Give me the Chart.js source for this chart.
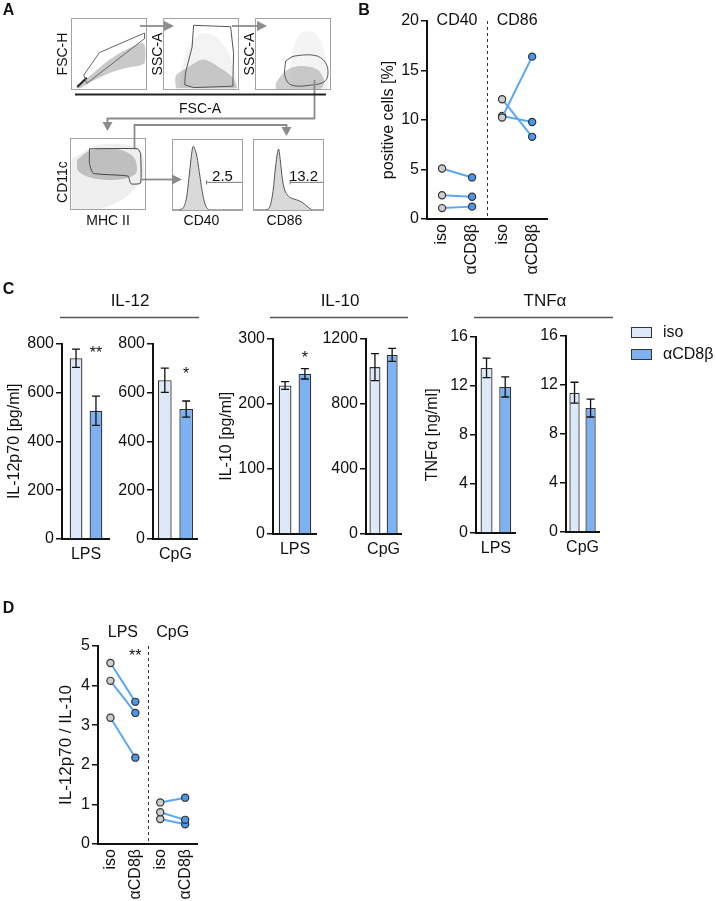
<!DOCTYPE html>
<html>
<head>
<meta charset="utf-8">
<script src="https://cdn.jsdelivr.net/npm/chart.js@4.4.1/dist/chart.umd.min.js"></script>
<style>
  html, body { margin: 0; padding: 0; background: #fff; }
  #fig { position: relative; width: 716px; height: 901px; overflow: hidden;
         font-family: "Liberation Sans", Arial, Helvetica, sans-serif; color: #111; background: #fff; }
  .t { position: absolute; white-space: nowrap; line-height: 1; transform: translate(-50%, -50%); }
  .t.rot { transform: translate(-50%, -50%) rotate(-90deg); }
  .t.left { transform: translate(0, -50%); }
  .box { position: absolute; border: 1px solid #a2a2a2; box-sizing: border-box; }
  .key { position: absolute; border: 1.3px solid #333; box-sizing: border-box; }
  canvas { position: absolute; }
  svg { position: absolute; left: 0; top: 0; }
</style>
</head>
<body>
<div id="fig"></div>
<script>
/* ===============================
   Data
   =============================== */

// Panel A - gate / density outlines, in % of each plot frame (x right, y up)
const fscGate = [[16, 20], [37, 52], [98, 80], [98, 72], [20, 8], [16, 20]];
const fscCloud = [[6, 2], [29, 23], [51, 42], [73, 56], [97, 65], [98, 37], [73, 30], [51, 23], [29, 12], [11, 1], [6, 2]];
const fscDiag = [[7, 3], [20, 16]];
const ssc1Gate = [[40, 91], [90, 89], [94, 51], [93, 4], [40, 2], [28, 6], [29, 23], [38, 60], [40, 91]];
const ssc1Sparse = [[20, 1], [31, 56], [49, 79], [71, 74], [89, 47], [98, 1], [20, 1]];
const ssc1Dense = [[16, 1], [16, 19], [31, 30], [53, 42], [76, 30], [93, 16], [98, 1], [16, 1]];
const ssc2Gate = [[40, 40], [52, 47], [83, 47], [96, 33], [94, 12], [70, 5], [47, 6], [39, 19], [40, 40]];
const ssc2Sparse = [[47, 0], [47, 42], [60, 79], [78, 81], [92, 56], [97, 0], [47, 0]];
const ssc2Dense = [[27, 0], [27, 9], [43, 28], [61, 33], [83, 28], [92, 12], [87, 0], [27, 0]];
const mhcGate = [[25, 86], [90, 86], [94, 79], [94, 37], [81, 36], [77, 47], [30, 51], [25, 65], [25, 86]];
const mhcSparse = [[1, 72], [40, 92], [92, 86], [99, 50], [75, 18], [38, 0], [1, 0], [1, 72]];
const mhcDense = [[8, 70], [26, 84], [61, 86], [85, 74], [88, 51], [66, 42], [30, 44], [10, 54], [8, 70]];

const cd40X = [0, 8, 12, 16, 20, 23, 26, 28, 29.5, 32, 35, 38, 41, 44, 47, 50, 53, 100];
const cd40Y = [0, 0, 1, 5, 20, 45, 72, 87, 91, 86, 75, 55, 35, 18, 7, 2, 0, 0];
const cd86X = [0, 15, 20, 24, 28, 31, 34, 35.7, 38, 41, 44, 48, 52, 57, 63, 70, 76, 81, 85, 100];
const cd86Y = [0, 0, 1, 8, 30, 60, 82, 87, 72, 45, 30, 22, 18, 16, 14, 11, 6, 2, 0, 0];
const histGates = [48.6, 52.4];      // left end of the positive gate
const histGateLevel = 39.5;
const histPercent = ["2.5", "13.2"];

// Panel B - % positive cells, paired (iso -> αCD8β)
const bCategories = ["iso", "αCD8β", "iso", "αCD8β"];
const bGroups = ["CD40", "CD86"];
const bIso = [5.1, 2.4, 1.1, 12.1, 10.25, 10.4];
const bAnti = [4.2, 2.25, 1.25, 8.3, 16.4, 9.8];

// Panel C - cytokines, mean ± error
const cStimuli = ["LPS", "CpG"];
const il12Iso = [740, 650], il12IsoErr = [37, 50];
const il12Anti = [525, 532], il12AntiErr = [60, 33];
const il12Sig = ["**", "*"], il12SigAt = [778, 693];
const il10Iso = [228, 1025], il10IsoErr = [6, 83];
const il10Anti = [246, 1100], il10AntiErr = [8, 40];
const il10Sig = ["*", ""], il10SigAt = [277, 0];
const tnfIso = [13.45, 11.35], tnfIsoErr = [0.8, 0.85];
const tnfAnti = [11.9, 10.1], tnfAntiErr = [0.82, 0.73];
const tnfSig = ["", ""], tnfSigAt = [0, 0];

// Panel D - IL-12p70 / IL-10 ratio, paired
const dCategories = ["iso", "αCD8β", "iso", "αCD8β"];
const dGroups = ["LPS", "CpG"];
const dIso = [4.57, 4.12, 3.19, 1.05, 0.8, 0.63];
const dAnti = [3.59, 3.31, 2.18, 1.17, 0.61, 0.5];
const dSig = ["**", ""], dSigAt = [4.84, 0];

/* ===============================
   Theme
   =============================== */
const INK = "#111";
const FAMILY = "'Liberation Sans', Arial, Helvetica, sans-serif";
const ISO_BAR = "#dde9f8";
const ANTI_BAR = "#7db1f1";
const ISO_DOT = "#cdcdcd";
const ANTI_DOT = "#4b97ea";
const PAIR_LINE = "#5aa8f2";

Chart.defaults.font.family = FAMILY;
Chart.defaults.font.size = 16;
Chart.defaults.color = INK;
Chart.defaults.animation = false;
Chart.defaults.events = [];
Chart.defaults.plugins.legend.display = false;
Chart.defaults.plugins.tooltip.enabled = false;

const fig = document.getElementById("fig");

function addText(txt, x, y, size, cls, bold) {
  const d = document.createElement("div");
  d.className = "t" + (cls ? " " + cls : "");
  d.textContent = txt;
  d.style.left = x + "px";
  d.style.top = y + "px";
  d.style.fontSize = size + "px";
  if (bold) d.style.fontWeight = "bold";
  fig.appendChild(d);
}

// canvas placed so that the chart area lands on the axis box of the figure
function makeCanvas(g) {
  const c = document.createElement("canvas");
  c.width = g.right - g.axisX + g.yW;
  c.height = g.padT + g.bottom - g.top + g.xH;
  c.style.left = (g.axisX - g.yW) + "px";
  c.style.top = (g.top - g.padT) + "px";
  fig.appendChild(c);
  return c;
}

function yAxis(g, max, step, title, titleSize) {
  return {
    min: 0, max,
    afterFit: s => { s.width = g.yW; },
    border: { color: INK, width: 2 },
    grid: { drawOnChartArea: false, color: INK, lineWidth: 1.5, tickLength: 6 },
    ticks: { stepSize: step, color: INK, padding: 2, font: { size: 16 }, callback: v => String(v) },
    title: { display: !!title, text: title, color: INK,
             font: { size: titleSize || 16 }, padding: { top: 4, bottom: 0 } }
  };
}

/* ===============================
   Plugins
   =============================== */
const errorBars = {
  id: "errorBars",
  afterDatasetsDraw(chart) {
    const ctx = chart.ctx, y = chart.scales.y;
    chart.data.datasets.forEach((ds, di) => {
      if (!ds.errors) return;
      chart.getDatasetMeta(di).data.forEach((bar, i) => {
        const v = ds.data[i], e = ds.errors[i];
        const top = y.getPixelForValue(v + e), bot = y.getPixelForValue(v - e);
        ctx.save();
        ctx.strokeStyle = INK;
        ctx.lineWidth = 1.3;
        ctx.beginPath();
        ctx.moveTo(bar.x, top); ctx.lineTo(bar.x, bot);
        ctx.moveTo(bar.x - 4, top); ctx.lineTo(bar.x + 4, top);
        ctx.moveTo(bar.x - 4, bot); ctx.lineTo(bar.x + 4, bot);
        ctx.stroke();
        ctx.restore();
      });
    });
  }
};

const barStars = {
  id: "barStars",
  afterDatasetsDraw(chart, args, o) {
    if (!o.text) return;
    const bar = chart.getDatasetMeta(1).data[0];
    const ctx = chart.ctx;
    ctx.save();
    ctx.fillStyle = INK;
    ctx.font = "16px " + FAMILY;
    ctx.textAlign = "center";
    ctx.textBaseline = "alphabetic";
    ctx.fillText(o.text, bar.x, chart.scales.y.getPixelForValue(o.at) + 9);
    ctx.restore();
  }
};

const pairDeco = {
  id: "pairDeco",
  afterDatasetsDraw(chart, args, o) {
    const { ctx, chartArea: a, scales: { x, y } } = chart;
    ctx.save();
    ctx.strokeStyle = "#333";
    ctx.lineWidth = 1;
    ctx.setLineDash([3, 3]);
    const xd = Math.round(x.getPixelForValue(2.5)) + 0.5;
    ctx.beginPath(); ctx.moveTo(xd, a.top); ctx.lineTo(xd, a.bottom); ctx.stroke();
    ctx.setLineDash([]);
    ctx.fillStyle = INK;
    ctx.font = "16px " + FAMILY;
    ctx.textAlign = "center";
    ctx.textBaseline = "middle";
    o.groups.forEach((g, i) => ctx.fillText(g, x.getPixelForValue(2 * i + 1.5), y.getPixelForValue(o.groupAt)));
    ctx.textBaseline = "alphabetic";
    o.sig.forEach((s, i) => {
      if (s) ctx.fillText(s, x.getPixelForValue(2 * i + 2), y.getPixelForValue(o.sigAt[i]) + 9);
    });
    ctx.restore();
  }
};

/* ===============================
   Panel A - flow plots
   =============================== */
const pts = a => a.map(([x, y]) => ({ x, y }));
const area = (a, color) => ({ data: pts(a), fill: "shape", backgroundColor: color, borderWidth: 0, pointRadius: 0, tension: 0.3 });
const outline = (a, color, w, t) => ({ data: pts(a), fill: false, borderColor: color, borderWidth: w || 1, pointRadius: 0, tension: t || 0 });
const hist = (xs, ys) => ({
  data: xs.map((x, i) => ({ x, y: ys[i] })), fill: "origin", backgroundColor: "#d9d9d9",
  borderColor: "#555", borderWidth: 1, pointRadius: 0, cubicInterpolationMode: "monotone"
});

function flowPlot(b, datasets) {
  const frame = document.createElement("div");
  frame.className = "box";
  Object.assign(frame.style, { left: b[0] + "px", top: b[1] + "px", width: b[2] + "px", height: b[3] + "px" });
  fig.appendChild(frame);
  const c = document.createElement("canvas");
  c.width = b[2] - 2;
  c.height = b[3] - 2;
  c.style.left = "0px";
  c.style.top = "0px";
  frame.appendChild(c);
  new Chart(c, {
    type: "line",
    data: { datasets },
    options: {
      responsive: false,
      layout: { padding: 0 },
      scales: {
        x: { type: "linear", display: false, min: 0, max: 100 },
        y: { display: false, min: 0, max: 100 }
      }
    }
  });
}

flowPlot([71, 18, 76, 72], [
  outline(fscGate, "#666", 1),
  outline(fscDiag, "#222", 2),
  area(fscCloud, "rgba(135,135,135,0.45)")
]);
flowPlot([163, 18, 76, 72], [
  outline(ssc1Gate, "#555", 1),
  area(ssc1Dense, "rgba(135,135,135,0.42)"),
  area(ssc1Sparse, "rgba(180,180,180,0.16)")
]);
flowPlot([255, 18, 76, 72], [
  outline(ssc2Gate, "#555", 1, 0.35),
  area(ssc2Dense, "rgba(135,135,135,0.42)"),
  area(ssc2Sparse, "rgba(180,180,180,0.14)")
]);
flowPlot([70, 138, 76, 72], [
  outline(mhcGate, "#444", 1, 0.15),
  area(mhcDense, "rgba(125,125,125,0.42)"),
  area(mhcSparse, "rgba(175,175,175,0.2)")
]);
[[172, cd40X, cd40Y], [253, cd86X, cd86Y]].forEach(([left, xs, ys], k) => {
  flowPlot([left, 139, 71, 72], [
    outline([[histGates[k], histGateLevel], [100, histGateLevel]], "#777", 1),
    outline([[histGates[k], histGateLevel - 3], [histGates[k], histGateLevel + 3]], "#777", 1),
    hist(xs, ys)
  ]);
});

/* ===============================
   Panel B - paired dots
   =============================== */
function pairedPanel(g, cats, groups, iso, anti, yMax, yStep, title, titleSize, groupAt, sig, sigAt) {
  const per = iso.length / groups.length;
  const datasets = iso.map((v, i) => {
    const x0 = 2 * Math.floor(i / per) + 1;
    return {
      data: [{ x: x0, y: v }, { x: x0 + 1, y: anti[i] }],
      borderColor: PAIR_LINE, borderWidth: 2,
      pointRadius: 3.6, pointBorderWidth: 1.2, pointBorderColor: "#333",
      pointBackgroundColor: [ISO_DOT, ANTI_DOT]
    };
  });
  new Chart(makeCanvas(g), {
    type: "line",
    data: { datasets },
    options: {
      responsive: false,
      layout: { padding: { top: g.padT, left: 0, right: 0, bottom: 0 } },
      scales: {
        x: {
          type: "linear", min: 0.5, max: 4.5,
          afterFit: s => { s.height = g.xH; },
          afterBuildTicks: s => { s.ticks = cats.map((_, i) => ({ value: i + 1 })); },
          border: { color: INK, width: 2 },
          grid: { display: false, drawTicks: false },
          ticks: {
            autoSkip: false, minRotation: 90, maxRotation: 90, padding: 5,
            color: INK, font: { size: 16 },
            callback: v => cats[v - 1]
          }
        },
        y: yAxis(g, yMax, yStep, title, titleSize)
      },
      plugins: { pairDeco: { groups, groupAt, sig, sigAt } }
    },
    plugins: [pairDeco]
  });
}

pairedPanel({ axisX: 427, right: 557, top: 21, bottom: 219, yW: 52, padT: 12, xH: 60 },
  bCategories, bGroups, bIso, bAnti, 20, 5, "positive cells [%]", 16, 20, ["", ""], [0, 0]);

/* ===============================
   Panel C - bars with error bars
   =============================== */
function barPanel(g, k, iso, isoErr, anti, antiErr, yMax, yStep, title, sig, sigAt) {
  new Chart(makeCanvas(g), {
    type: "bar",
    data: {
      labels: [cStimuli[k]],
      datasets: [
        { data: [iso[k]], errors: [isoErr[k]], backgroundColor: ISO_BAR, borderColor: "#333",
          borderWidth: 1.3, categoryPercentage: g.cp, barPercentage: 0.64 },
        { data: [anti[k]], errors: [antiErr[k]], backgroundColor: ANTI_BAR, borderColor: "#333",
          borderWidth: 1.3, categoryPercentage: g.cp, barPercentage: 0.64 }
      ]
    },
    options: {
      responsive: false,
      layout: { padding: { top: g.padT, left: 0, right: 0, bottom: 0 } },
      scales: {
        x: {
          afterFit: s => { s.height = g.xH; },
          border: { color: INK, width: 2 },
          grid: { display: false, drawTicks: false },
          ticks: { padding: 6, color: INK, font: { size: 16 } }
        },
        y: yAxis(g, yMax, yStep, title, 16)
      },
      plugins: { barStars: { text: sig[k], at: sigAt[k] } }
    },
    plugins: [errorBars, barStars]
  });
}

barPanel({ axisX: 62, right: 110, top: 342, bottom: 539, yW: 61, padT: 10, xH: 30, cp: 0.83 },
  0, il12Iso, il12IsoErr, il12Anti, il12AntiErr, 800, 200, "IL-12p70 [pg/ml]", il12Sig, il12SigAt);
barPanel({ axisX: 153, right: 198, top: 342, bottom: 539, yW: 45, padT: 10, xH: 30, cp: 0.95 },
  1, il12Iso, il12IsoErr, il12Anti, il12AntiErr, 800, 200, "", il12Sig, il12SigAt);
barPanel({ axisX: 273, right: 317, top: 337, bottom: 534, yW: 60, padT: 10, xH: 30, cp: 0.9 },
  0, il10Iso, il10IsoErr, il10Anti, il10AntiErr, 300, 100, "IL-10 [pg/ml]", il10Sig, il10SigAt);
barPanel({ axisX: 366, right: 406, top: 337, bottom: 534, yW: 46, padT: 10, xH: 30, cp: 0.98 },
  1, il10Iso, il10IsoErr, il10Anti, il10AntiErr, 1200, 400, "", il10Sig, il10SigAt);
barPanel({ axisX: 476, right: 517, top: 335, bottom: 533, yW: 57, padT: 10, xH: 30, cp: 0.94 },
  0, tnfIso, tnfIsoErr, tnfAnti, tnfAntiErr, 16, 4, "TNFα [ng/ml]", tnfSig, tnfSigAt);
barPanel({ axisX: 566, right: 605, top: 334, bottom: 532, yW: 46, padT: 10, xH: 30, cp: 0.97 },
  1, tnfIso, tnfIsoErr, tnfAnti, tnfAntiErr, 16, 4, "", tnfSig, tnfSigAt);

/* ===============================
   Panel D - ratio, paired dots
   =============================== */
pairedPanel({ axisX: 98, right: 210, top: 646, bottom: 844, yW: 46, padT: 26, xH: 57 },
  dCategories, dGroups, dIso, dAnti, 5, 1, "IL-12p70 / IL-10", 17, 5.35, dSig, dSigAt);

/* ===============================
   Connectors, rules and texts
   =============================== */
const svgNS = "http://www.w3.org/2000/svg";
const svg = document.createElementNS(svgNS, "svg");
svg.setAttribute("width", 716);
svg.setAttribute("height", 901);
svg.innerHTML = `
  <g stroke="#8c8c8c" stroke-width="1.8" fill="none">
    <polyline points="140,26 165,26"/>
    <polyline points="232,26 258,26"/>
    <polyline points="314.5,80 314.5,118.5 107.5,118.5 107.5,123"/>
    <polyline points="134.5,148 134.5,125 286.5,125 286.5,128"/>
    <polyline points="141.5,179.5 173,179.5"/>
  </g>
  <g fill="#8c8c8c">
    <polygon points="164,21 174,26 164,31"/>
    <polygon points="257,21 267,26 257,31"/>
    <polygon points="102.5,122 112.5,122 107.5,131"/>
    <polygon points="281.5,127 291.5,127 286.5,136"/>
    <polygon points="172,174.5 182,179.5 172,184.5"/>
  </g>
  <line x1="75" y1="94.5" x2="326" y2="94.5" stroke="#222" stroke-width="2"/>
  <g stroke="#555" stroke-width="1.5">
    <line x1="60" y1="317.5" x2="199" y2="317.5"/>
    <line x1="270" y1="317.5" x2="408" y2="317.5"/>
    <line x1="474" y1="317.5" x2="613" y2="317.5"/>
  </g>`;
fig.appendChild(svg);

// panel letters
addText("A", 8.5, 10, 16, "", true);
addText("B", 364, 10, 16, "", true);
addText("C", 8.5, 289, 16, "", true);
addText("D", 8.5, 608, 16, "", true);

// panel A labels
addText("FSC-H", 62, 54, 14, "rot");
addText("SSC-A", 156.5, 53.5, 14, "rot");
addText("SSC-A", 249, 53.5, 14, "rot");
addText("FSC-A", 200, 108, 14);
addText("CD11c", 61.5, 181.5, 14, "rot");
addText("MHC II", 108, 219.5, 14);
addText("CD40", 201.5, 219.5, 14);
addText("CD86", 284.5, 219.5, 14);
addText(histPercent[0], 222.5, 175, 15);
addText(histPercent[1], 303.5, 175, 15);

// panel C headers
addText("IL-12", 130, 300, 17);
addText("IL-10", 340, 300, 17);
addText("TNFα", 545, 300, 17);

// panel C legend
[["iso", ISO_BAR, 332], ["αCD8β", ANTI_BAR, 354]].forEach(([name, color, y]) => {
  const k = document.createElement("div");
  k.className = "key";
  Object.assign(k.style, { left: "631px", top: (y - 5) + "px", width: "21px", height: "11px", background: color });
  fig.appendChild(k);
  addText(name, 663, y, 16, "left");
});
</script>
</body>
</html>
